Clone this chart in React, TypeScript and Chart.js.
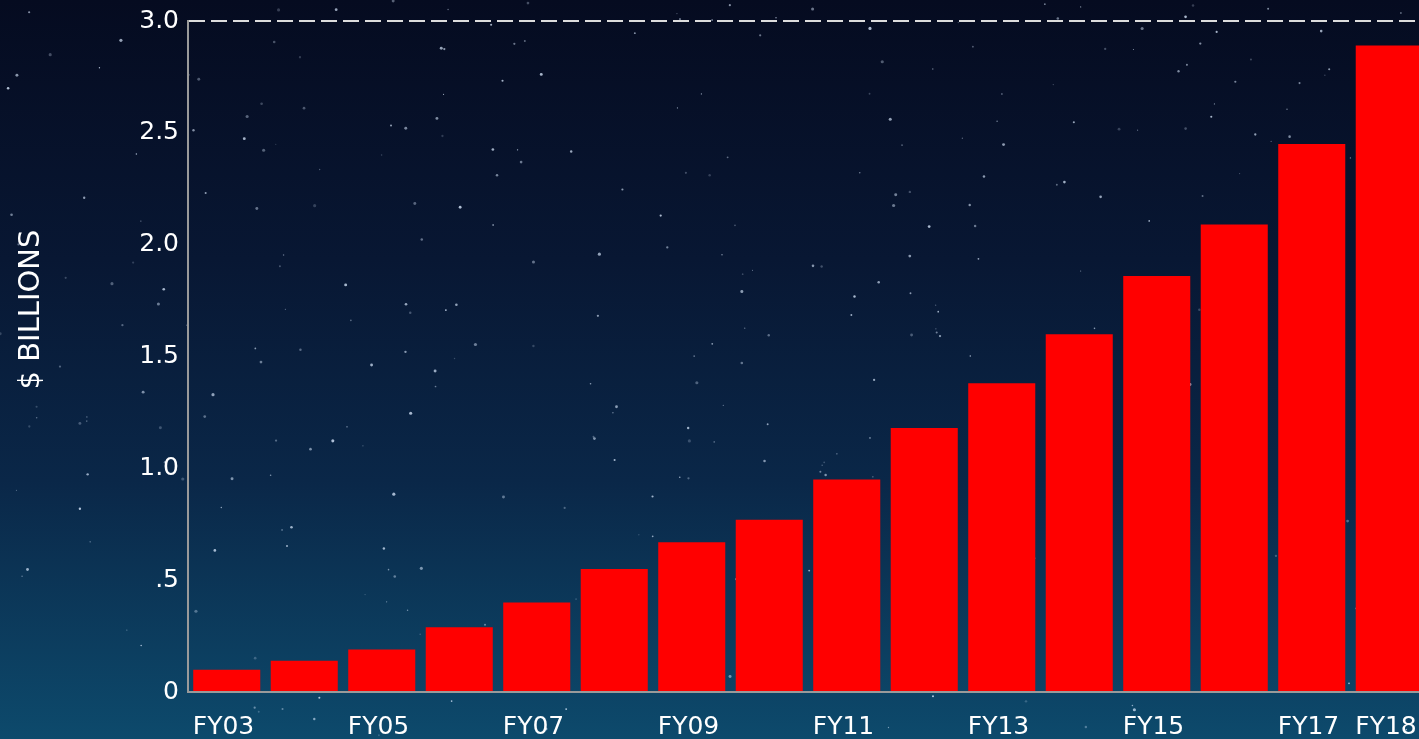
import { useEffect, useRef } from 'react';
import { Chart, registerables } from 'chart.js';

Chart.register(...registerables);

const categories = ['FY03', 'FY04', 'FY05', 'FY06', 'FY07', 'FY08', 'FY09', 'FY10', 'FY11', 'FY12', 'FY13', 'FY14', 'FY15', 'FY16', 'FY17', 'FY18'];
const revenueBillions = [0.10, 0.14, 0.19, 0.29, 0.40, 0.55, 0.67, 0.77, 0.95, 1.18, 1.38, 1.60, 1.86, 2.09, 2.45, 2.89];
const shownXLabels = ['FY03', 'FY05', 'FY07', 'FY09', 'FY11', 'FY13', 'FY15', 'FY17', 'FY18'];
const yTickValues = [0, 0.5, 1, 1.5, 2, 2.5, 3];
const yTickLabels = ['0', '.5', '1.0', '1.5', '2.0', '2.5', '3.0'];
const yAxisTitle = '$ BILLIONS';

const FONT = '"DejaVu Sans", "Noto Sans", sans-serif';

function makeRng(seed: number) {
  let s = seed >>> 0;
  return () => {
    s = (s * 1664525 + 1013904223) >>> 0;
    return s / 4294967296;
  };
}

const backgroundPlugin = {
  id: 'skyBackground',
  beforeDraw(chart: any) {
    const { ctx, width, height } = chart;
    ctx.save();
    const g = ctx.createLinearGradient(0, 0, 0, height);
    g.addColorStop(0, '#050b20');
    g.addColorStop(0.35, '#081733');
    g.addColorStop(0.65, '#0a2748');
    g.addColorStop(1, '#0d4a6c');
    ctx.fillStyle = g;
    ctx.fillRect(0, 0, width, height);
    const rnd = makeRng(12345);
    for (let i = 0; i < 360; i++) {
      const x = rnd() * width;
      const y = rnd() * height;
      const r = 0.5 + rnd() * 1.1;
      const a = 0.2 + rnd() * 0.6;
      ctx.beginPath();
      ctx.fillStyle = `rgba(220,235,255,${a.toFixed(2)})`;
      ctx.arc(x, y, r, 0, Math.PI * 2);
      ctx.fill();
    }
    ctx.restore();
  },
};

const yTitlePlugin = {
  id: 'yTitle',
  afterDraw(chart: any) {
    const { ctx, chartArea } = chart;
    ctx.save();
    ctx.translate(31, chartArea.top + (chartArea.bottom - chartArea.top) * 0.43);
    ctx.rotate(-Math.PI / 2);
    ctx.fillStyle = '#ffffff';
    ctx.font = `29px ${FONT}`;
    ctx.textAlign = 'center';
    ctx.textBaseline = 'middle';
    ctx.fillText(yAxisTitle, 0, 0);
    ctx.restore();
  },
};

export default function App() {
  const ref = useRef<HTMLCanvasElement | null>(null);

  useEffect(() => {
    document.body.style.margin = '0';
    const canvas = ref.current;
    if (!canvas) return;
    const chart = new Chart(canvas, {
      type: 'bar',
      data: {
        labels: categories,
        datasets: [
          {
            data: revenueBillions,
            backgroundColor: '#ff0000',
            borderWidth: 0,
            barPercentage: 0.865,
            categoryPercentage: 1.0,
          },
        ],
      },
      options: {
        responsive: false,
        animation: false,
        layout: { padding: { top: 21, left: 0, right: 0, bottom: 0 } },
        plugins: {
          legend: { display: false },
          tooltip: { enabled: false },
        },
        scales: {
          x: {
            offset: true,
            grid: { display: false, drawTicks: false },
            border: { display: true, color: '#9a9a9a', width: 2 },
            ticks: {
              autoSkip: false,
              maxRotation: 0,
              minRotation: 0,
              align: 'start',
              labelOffset: -34,
              padding: 20,
              color: '#ffffff',
              font: { family: FONT, size: 25 },
              callback: (_v: any, i: number) => (shownXLabels.includes(categories[i]) ? categories[i] : ''),
            },
            afterFit: (scale: any) => {
              scale.height = 47;
              scale.paddingLeft = 0;
              scale.paddingRight = 0;
            },
          },
          y: {
            min: 0,
            max: 3,
            afterBuildTicks: (scale: any) => {
              scale.ticks = yTickValues.map((v) => ({ value: v }));
            },
            grid: {
              drawTicks: false,
              lineWidth: 2,
              color: (c: any) => (c.tick && c.tick.value === 3 ? '#dcdcdc' : 'rgba(0,0,0,0)'),
            },
            border: { display: true, color: '#9a9a9a', width: 2, dash: [16, 6] },
            ticks: {
              padding: 9,
              color: '#ffffff',
              font: { family: FONT, size: 25 },
              callback: (v: any) => {
                const idx = yTickValues.indexOf(Number(v));
                return idx >= 0 ? yTickLabels[idx] : '';
              },
            },
            afterFit: (scale: any) => {
              scale.width = 188;
              scale.paddingTop = 0;
              scale.paddingBottom = 0;
            },
          },
        },
      },
      plugins: [backgroundPlugin, yTitlePlugin],
    } as any);
    return () => chart.destroy();
  }, []);

  return (
    <div style={{ position: 'fixed', left: 0, top: 0, width: 1419, height: 739, overflow: 'hidden' }}>
      <canvas ref={ref} width={1428} height={739} style={{ width: 1428, height: 739, display: 'block' }} />
    </div>
  );
}
